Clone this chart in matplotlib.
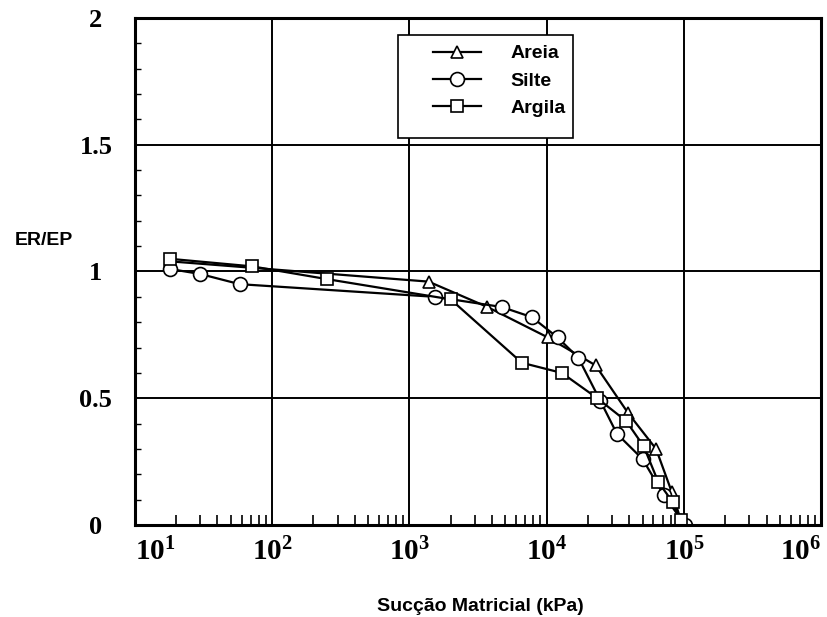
import numpy as np
import matplotlib.pyplot as plt
from matplotlib.ticker import LogLocator, FixedLocator, MultipleLocator
from matplotlib.patches import Rectangle

# Data (x = matric suction in kPa, y = ER/EP)
areia_x = [18, 1380, 3700, 10200, 22700, 39400, 62700, 81600, 95000]
areia_y = [1.04, 0.96, 0.86, 0.74, 0.63, 0.44, 0.30, 0.13, 0.02]

silte_x = [18, 30, 58, 1540, 4700, 7800, 12000, 17000, 24600, 32500, 50000, 71000, 102000]
silte_y = [1.01, 0.99, 0.95, 0.90, 0.86, 0.82, 0.74, 0.66, 0.49, 0.36, 0.26, 0.12, 0.0]

argila_x = [18, 72, 250, 2000, 6600, 12900, 23400, 38000, 51000, 65000, 83000, 95000]
argila_y = [1.05, 1.02, 0.97, 0.89, 0.64, 0.60, 0.50, 0.41, 0.31, 0.17, 0.09, 0.02]

y_ticks = [0, 0.5, 1, 1.5, 2]
y_tick_labels = ["0", "0.5", "1", "1.5", "2"]
x_ticks = [1e1, 1e2, 1e3, 1e4, 1e5, 1e6]
x_tick_labels = ["$\\mathbf{10^{1}}$", "$\\mathbf{10^{2}}$", "$\\mathbf{10^{3}}$",
                 "$\\mathbf{10^{4}}$", "$\\mathbf{10^{5}}$", "$\\mathbf{10^{6}}$"]

plt.rcParams['mathtext.fontset'] = 'custom'
plt.rcParams['mathtext.rm'] = 'Liberation Serif'
plt.rcParams['mathtext.bf'] = 'Liberation Serif:bold'

fig = plt.figure(figsize=(8.27, 6.17), dpi=100)
ax = fig.add_axes([0.163, 0.149, 0.830, 0.822])

style = dict(color="black", lw=1.6, markerfacecolor="white",
             markeredgecolor="black", markeredgewidth=1.2)
ax.plot(areia_x, areia_y, marker="^", ms=9, label="Areia", **style)
ax.plot(silte_x, silte_y, marker="o", ms=10, label="Silte", **style)
ax.plot(argila_x, argila_y, marker="s", ms=9, label="Argila", **style)

ax.set_xscale("log")
ax.set_xlim(10, 1e6)
ax.set_ylim(0, 2)

ax.xaxis.set_major_locator(FixedLocator(x_ticks))
ax.set_xticklabels(x_tick_labels, fontsize=21)
ax.get_xticklabels()[0].set_horizontalalignment("left")
ax.get_xticklabels()[-1].set_horizontalalignment("right")
ax.xaxis.set_minor_locator(LogLocator(base=10, subs=np.arange(2, 10)))
ax.xaxis.set_minor_formatter(plt.NullFormatter())
ax.tick_params(axis="x", which="minor", direction="in", length=7, width=1.2)
ax.tick_params(axis="x", which="major", direction="in", length=0, pad=9)

ax.set_yticks(y_ticks)
ax.set_yticklabels(y_tick_labels, fontsize=19, fontweight="bold",
                   family="Liberation Serif")
for lab in ax.get_yticklabels():
    lab.set_horizontalalignment("center")
ax.yaxis.set_minor_locator(MultipleLocator(0.1))
ax.tick_params(axis="y", which="major", length=0, pad=28)
ax.tick_params(axis="y", which="minor", direction="in", length=4, width=1)

ax.grid(True, which="major", color="black", lw=1.4)
for s in ax.spines.values():
    s.set_linewidth(2.2)

ax.set_xlabel("Sucção Matricial (kPa)", fontsize=14, fontweight="bold",
              family="Liberation Sans", va="top")
ax.xaxis.set_label_coords(0.503, -0.143)
fig.text(0.018, 0.611, "ER/EP", fontsize=14, fontweight="bold",
         family="Liberation Sans", ha="left", va="center")

# legend: frame drawn separately so the inner spacing matches
ax.add_patch(Rectangle((0.383, 0.763), 0.255, 0.203, transform=ax.transAxes,
                       facecolor="white", edgecolor="black", lw=1.2, zorder=4))
leg = ax.legend(loc="upper left", bbox_to_anchor=(0.434, 0.947),
                prop={"weight": "bold", "size": 14, "family": "Liberation Sans"},
                handlelength=2.5, frameon=False, borderpad=0, borderaxespad=0,
                labelspacing=0.5, handletextpad=1.5)
leg.set_zorder(5)

fig.savefig("out.png", dpi=100)
